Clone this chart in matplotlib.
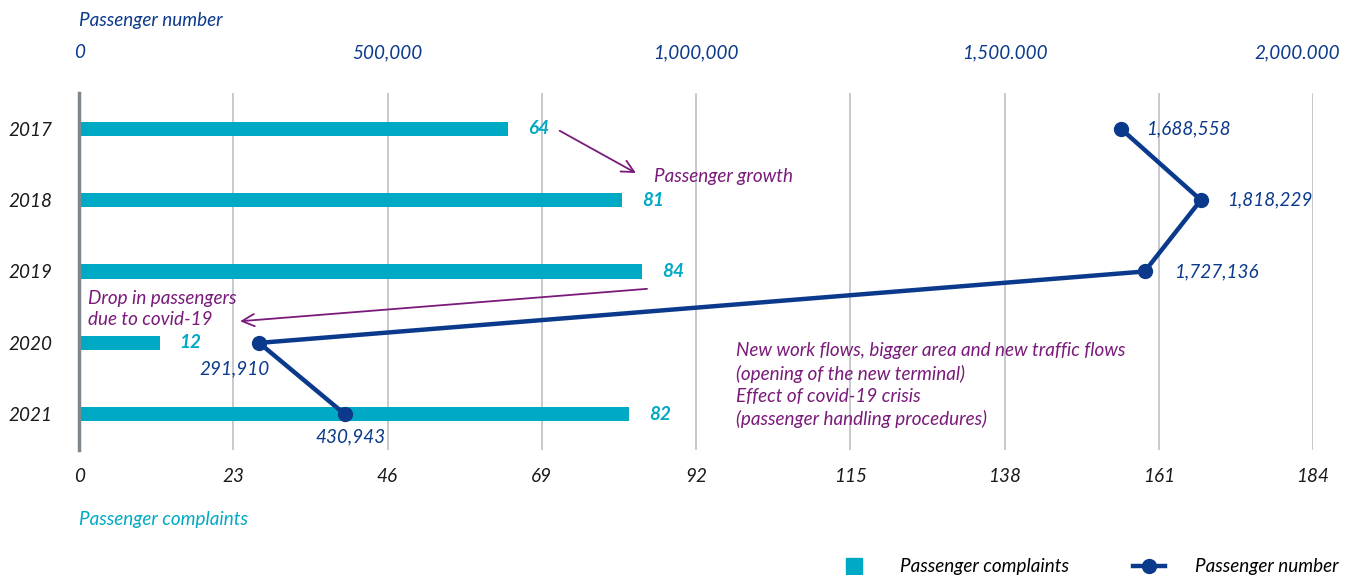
import numpy as np
import matplotlib
matplotlib.use('agg')
import matplotlib.pyplot as plt
from matplotlib.lines import Line2D
from matplotlib.transforms import offset_copy

years = ['2017', '2018', '2019', '2020', '2021']
complaints = [64, 81, 84, 12, 82]
passengers = [1688558, 1818229, 1727136, 291910, 430943]

complaint_ticks = [0, 23, 46, 69, 92, 115, 138, 161, 184]
passenger_ticks = [0, 500000, 1000000, 1500000, 2000000]
passenger_tick_labels = ['0', '500,000', '1,000,000', '1,500.000', '2,000.000']

teal = '#00AAC4'
navy = '#0B3A8C'
purple = '#7A1A7A'
grid_grey = '#BCC0C6'
fs = 13.6

plt.rcParams['font.family'] = ['Lato', 'DejaVu Sans']
plt.rcParams['font.style'] = 'italic'

fig = plt.figure(figsize=(13.56, 5.75), dpi=100)
ax = fig.add_axes([0.0583, 0.2174, 0.9100, 0.6209])
ypos = np.arange(len(years))

ax.barh(ypos, complaints, height=0.2, color=teal, zorder=2)
ax.set_xlim(0, 184)
ax.set_ylim(4.5, -0.5)
ax.set_xticks(complaint_ticks)
ax.set_xticklabels([str(t) for t in complaint_ticks], fontsize=fs, color='#1a1a1a')
ax.set_yticks(ypos)
ax.set_yticklabels(years, fontsize=fs, color='#1a1a1a', ha='left')
ax.tick_params(axis='y', length=0, pad=51)
ax.tick_params(axis='x', length=0, pad=13)
for s in ['top', 'right', 'bottom']:
    ax.spines[s].set_visible(False)
ax.spines['left'].set_color('#7F868E')
ax.spines['left'].set_linewidth(2.5)
ax.xaxis.grid(True, color=grid_grey, linewidth=1.2, zorder=0)
ax.set_axisbelow(True)

for y, v in zip(ypos, complaints):
    ax.text(v + 3, y, str(v), color=teal, fontsize=fs, fontweight='bold',
            va='center', ha='left')

# passenger numbers on the top axis
ax2 = ax.twiny()
ax2.set_xlim(0, 2000000)
ax2.set_ylim(4.5, -0.5)
ax2.plot(passengers, ypos, color=navy, linewidth=3.2, marker='o',
         markersize=10, zorder=4)
ax2.set_xticks(passenger_ticks)
ax2.set_xticklabels(passenger_tick_labels, fontsize=fs, color=navy)
ax2.tick_params(axis='x', length=0, pad=23)
for s in ['top', 'right', 'bottom', 'left']:
    ax2.spines[s].set_visible(False)
# keep the last top label inside the figure
last = ax2.xaxis.get_major_ticks()[-1].label2
last.set_transform(offset_copy(last.get_transform(), fig=fig, x=-11,
                               units='points'))

label_offsets = [(18, 0, 'left'), (19, 0, 'left'), (21, 0, 'left'),
                 (-18, -19, 'center'), (4, -16, 'center')]
for x, y, (dx, dy, ha) in zip(passengers, ypos, label_offsets):
    ax2.annotate(f'{x:,}', (x, y), xytext=(dx, dy), textcoords='offset points',
                 color=navy, fontsize=fs, ha=ha, va='center')

ax.text(0, 1.204, 'Passenger number', transform=ax.transAxes, color=navy,
        fontsize=fs, ha='left', va='center')
ax.text(0, -0.195, 'Passenger complaints', transform=ax.transAxes, color=teal,
        fontsize=fs, ha='left', va='center')

# annotations
ax.annotate('', xy=(83.4, 0.64), xytext=(71.3, 0.01),
            arrowprops=dict(arrowstyle='->', color=purple, lw=1.3,
                            mutation_scale=22))
ax.text(85.7, 0.67, 'Passenger growth', color=purple, fontsize=fs,
        va='center', ha='left')
ax.annotate('', xy=(23.6, 2.70), xytext=(85.1, 2.24),
            arrowprops=dict(arrowstyle='->', color=purple, lw=1.3,
                            mutation_scale=22))
ax.text(1.3, 2.52, 'Drop in passengers\ndue to covid-19', color=purple,
        fontsize=fs, va='center', ha='left', linespacing=1.3)
ax.text(98.0, 2.99, 'New work flows, bigger area and new traffic flows\n'
        '(opening of the new terminal)\nEffect of covid-19 crisis\n'
        '(passenger handling procedures)', color=purple, fontsize=fs,
        va='top', ha='left', linespacing=1.36)

handles = [Line2D([], [], color=teal, linestyle='none', marker='s',
                  markersize=11),
           Line2D([], [], color=navy, linewidth=3.2, marker='o', markersize=10)]
fig.legend(handles, ['Passenger complaints', 'Passenger number'],
           loc='lower right', bbox_to_anchor=(1.0, -0.03), ncol=2,
           frameon=False, fontsize=fs, handlelength=1.7,
           columnspacing=3.4, handletextpad=1.6)

fig.savefig('out.png', dpi=100)
